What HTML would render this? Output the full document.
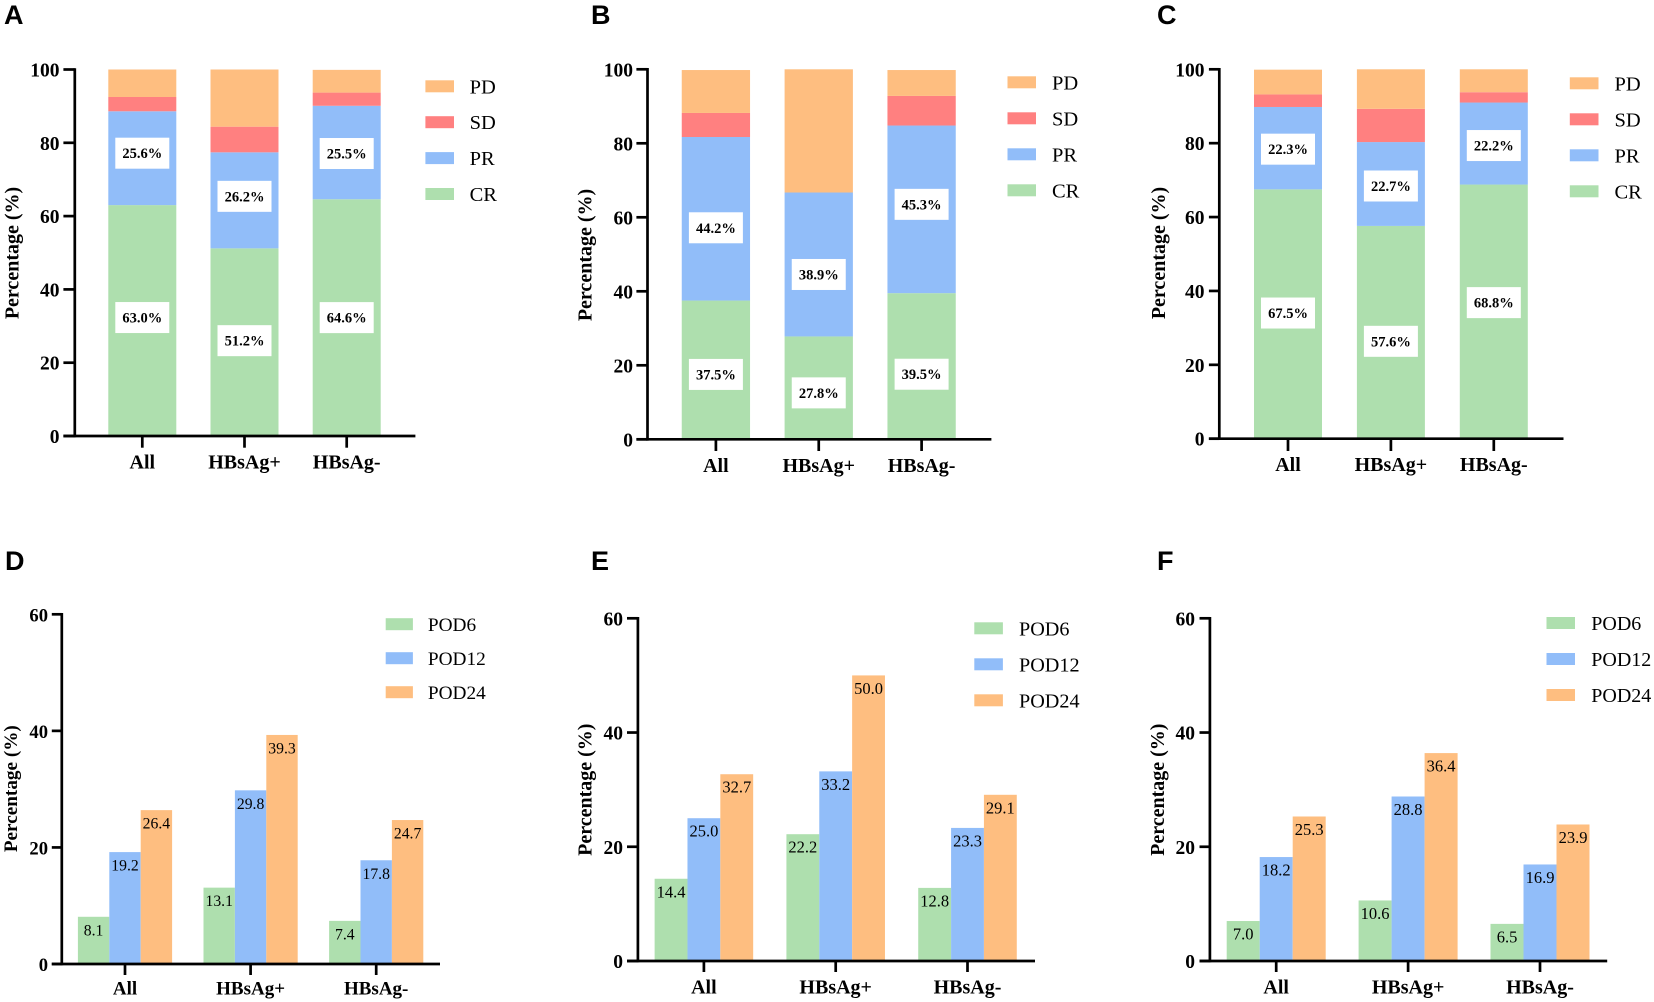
<!DOCTYPE html>
<html lang="en">
<head>
<meta charset="utf-8">
<title>Tumor response and POD rates by HBsAg status</title>
<style>
  html, body { margin: 0; padding: 0; background: #fff; }
  body { width: 1654px; height: 1002px; overflow: hidden; }
  svg { display: block; }
  text { font-family: "Liberation Serif", serif; fill: #000; }
  .panel-letter { font-family: "Liberation Sans", sans-serif; font-weight: 700; font-size: 27px; }
  .tick { font-weight: 700; }
  .title { font-weight: 700; }
  .seg-label { font-weight: 700; font-size: 14.5px; }
</style>
</head>
<body>
<svg id="figure" xmlns="http://www.w3.org/2000/svg" width="1654" height="1002" viewBox="0 0 1654 1002"></svg>
<script>
// ---- Shared categories and tick labels ----
const categories = ["All", "HBsAg+", "HBsAg-"];
const stackedSeries = ["CR", "PR", "SD", "PD"];
const stackedLegendOrder = ["PD", "SD", "PR", "CR"];
const podSeries = ["POD6", "POD12", "POD24"];
const stackedTicks = [0, 20, 40, 60, 80, 100];
const podTicks = [0, 20, 40, 60];

// ---- Panel A values (%) ----
const aCR = [63.0, 51.2, 64.6];
const aPR = [25.6, 26.2, 25.5];
const aSD = [3.9, 7.0, 3.6];
const aPD = [7.5, 15.6, 6.2];

// ---- Panel B values (%) ----
const bCR = [37.5, 27.8, 39.5];
const bPR = [44.2, 38.9, 45.3];
const bSD = [6.5, 0, 8.0];
const bPD = [11.6, 33.3, 7.0];

// ---- Panel C values (%) ----
const cCR = [67.5, 57.6, 68.8];
const cPR = [22.3, 22.7, 22.2];
const cSD = [3.4, 9.0, 2.8];
const cPD = [6.7, 10.7, 6.2];

// ---- Panel D values (%) ----
const dPOD6 = [8.1, 13.1, 7.4];
const dPOD12 = [19.2, 29.8, 17.8];
const dPOD24 = [26.4, 39.3, 24.7];

// ---- Panel E values (%) ----
const ePOD6 = [14.4, 22.2, 12.8];
const ePOD12 = [25.0, 33.2, 23.3];
const ePOD24 = [32.7, 50.0, 29.1];

// ---- Panel F values (%) ----
const fPOD6 = [7.0, 10.6, 6.5];
const fPOD12 = [18.2, 28.8, 16.9];
const fPOD24 = [25.3, 36.4, 23.9];

// ---- Styling and layout (not data) ----
const colors = { CR: "#aedfae", PR: "#91bdf9", SD: "#ff8080", PD: "#febe80", POD6: "#aedfae", POD12: "#91bdf9", POD24: "#febe80" };
const NS = "http://www.w3.org/2000/svg";
const svg = document.getElementById("figure");

function add(parent, tag, attrs, content) {
  const el = document.createElementNS(NS, tag);
  for (const k in attrs) el.setAttribute(k, attrs[k]);
  if (content !== undefined) el.textContent = content;
  parent.appendChild(el);
  return el;
}

function drawFrame(g, p, ticks) {
  const y = v => p.y0 + (p.yTop - p.y0) * v / p.max;
  const x = i => p.c0 + i * p.step;

  const yAxis = add(g, "line", { x1: p.axisX, x2: p.axisX, y1: p.yTop - 1.3, y2: p.y0 + 1.3, stroke: "#000", "stroke-width": 2.7 });
  
  
  const xAxis = add(g, "line", { x1: p.tickLeft, x2: p.axisEnd, y1: p.y0, y2: p.y0, stroke: "#000", "stroke-width": 2.7 });
  
  

  ticks.forEach(v => {
    const t = add(g, "line", { x1: p.tickLeft, x2: p.axisX, y1: y(v), y2: y(v), stroke: "#000", "stroke-width": 2.7 });
    
    
    const l = add(g, "text", { class: "tick", x: p.tickTextRight, y: y(v) + 7, "text-anchor": "end", "font-size": p.tickSize }, String(v));
    
    
  });

  categories.forEach((c, i) => {
    const t = add(g, "line", { x1: x(i), x2: x(i), y1: p.y0, y2: p.xTickEnd, stroke: "#000", "stroke-width": 2.7 });
    
    
    const l = add(g, "text", { class: "tick", x: x(i), y: p.xLabelY, "text-anchor": "middle", "font-size": p.xLabelSize }, c);
    
    
  });

  const title = add(g, "text", { class: "title", transform: "translate(" + p.titleX + "," + p.titleY + ") rotate(-90)", "text-anchor": "middle", "font-size": p.titleSize }, "Percentage (%)");
  
  

  const letter = add(g, "text", { class: "panel-letter", x: p.letterX, y: p.letterY }, p.letter);
  
  
}

function drawLegend(g, p, names) {
  names.forEach((n, i) => {
    const cy = p.legendY + i * p.legendGap;
    const entry = add(g, "g", {});
    
    
    const sw = add(entry, "rect", { x: p.swatchX, y: cy - 6, width: p.swatchW, height: 12, fill: colors[n] });
    
    
    const tx = add(entry, "text", { x: p.legendTextX, y: cy + 7, "font-size": p.legendSize }, n);
    
    
  });
}

function drawStacked(p, series, labelNudge) {
  const g = add(svg, "g", {});
  
  
  const y = v => p.y0 + (p.yTop - p.y0) * v / p.max;
  const x = i => p.c0 + i * p.step;

  categories.forEach((c, i) => {
    let base = 0;
    const labels = [];
    stackedSeries.forEach(name => {
      const v = series[name][i];
      const bar = add(g, "rect", { x: x(i) - p.barW / 2, y: y(base + v), width: p.barW, height: y(base) - y(base + v), fill: colors[name] });
      
      
      if (name === "CR" || name === "PR") labels.push({ name: name, v: v, mid: base + v / 2 });
      base += v;
    });
    labels.forEach(l => {
      const cy = y(l.mid) + labelNudge[l.name][i];
      const box = add(g, "rect", { x: x(i) - 27, y: cy - 15.5, width: 54, height: 31, fill: "#fff" });
      
      
      const tx = add(g, "text", { class: "seg-label", x: x(i), y: cy + 5, "text-anchor": "middle" }, l.v.toFixed(1) + "%");
      
      
    });
  });

  drawFrame(g, p, stackedTicks);
  drawLegend(g, p, stackedLegendOrder);
}

function drawGrouped(p, series) {
  const g = add(svg, "g", {});
  
  
  const y = v => p.y0 + (p.yTop - p.y0) * v / p.max;
  const x = i => p.c0 + i * p.step;

  categories.forEach((c, i) => {
    podSeries.forEach((name, s) => {
      const v = series[name][i];
      const left = x(i) + (s - 1.5) * p.barW;
      const bar = add(g, "rect", { x: left, y: y(v), width: p.barW, height: p.y0 - y(v), fill: colors[name] });
      
      
      const tx = add(g, "text", { x: left + p.barW / 2, y: y(v) + 18.5, "text-anchor": "middle", "font-size": p.valueSize, fill: "#111" }, v.toFixed(1));
      
      
    });
  });

  drawFrame(g, p, podTicks);
  drawLegend(g, p, podSeries);
}

drawStacked(
  { letter: "A", letterX: 4, letterY: 24, max: 100, y0: 436, yTop: 69.5, c0: 142.3, step: 102.2, barW: 68,
    axisX: 74.8, tickLeft: 63.4, axisEnd: 415.4, xTickEnd: 447.7, tickTextRight: 59.5, tickSize: 19.5, xLabelY: 468.3, xLabelSize: 20,
    titleX: 18.5, titleY: 253, titleSize: 20,
    legendY: 86.3, legendGap: 35.9, swatchX: 425.4, swatchW: 28.6, legendTextX: 469.6, legendSize: 20.5 },
  { CR: aCR, PR: aPR, SD: aSD, PD: aPD },
  { CR: [-3, -1.5, 0], PR: [-5, -4, 1] }
);

drawStacked(
  { letter: "B", letterX: 591, letterY: 24, max: 100, y0: 439.3, yTop: 69.3, c0: 715.9, step: 102.85, barW: 68.3,
    axisX: 647.5, tickLeft: 636.4, axisEnd: 991.4, xTickEnd: 451, tickTextRight: 633, tickSize: 19.5, xLabelY: 472, xLabelSize: 20,
    titleX: 591.4, titleY: 255, titleSize: 20,
    legendY: 82.3, legendGap: 36, swatchX: 1007.5, swatchW: 28.5, legendTextX: 1052, legendSize: 20.5 },
  { CR: bCR, PR: bPR, SD: bSD, PD: bPD },
  { CR: [4.5, 5, 8], PR: [9, 10, -5] }
);

drawStacked(
  { letter: "C", letterX: 1157, letterY: 24, max: 100, y0: 438.7, yTop: 69.3, c0: 1288, step: 102.9, barW: 68,
    axisX: 1219.3, tickLeft: 1208.9, axisEnd: 1563.5, xTickEnd: 451, tickTextRight: 1204.5, tickSize: 19.5, xLabelY: 471, xLabelSize: 20,
    titleX: 1164.8, titleY: 253, titleSize: 20,
    legendY: 83.3, legendGap: 36, swatchX: 1569.8, swatchW: 28.7, legendTextX: 1614.5, legendSize: 20.5 },
  { CR: cCR, PR: cPR, SD: cSD, PD: cPD },
  { CR: [-1, 9, -9], PR: [1, 2, 2] }
);

drawGrouped(
  { letter: "D", letterX: 5, letterY: 570, max: 60, y0: 964, yTop: 614.3, c0: 125, step: 125.6, barW: 31.4,
    axisX: 61.8, tickLeft: 51.8, axisEnd: 440, xTickEnd: 975, tickTextRight: 48, tickSize: 18.6, xLabelY: 994.3, xLabelSize: 19,
    titleX: 16.8, titleY: 788.7, titleSize: 19.2,
    legendY: 624.2, legendGap: 34, swatchX: 385.7, swatchW: 27.2, legendTextX: 427.9, legendSize: 19.3, valueSize: 15.7 },
  { POD6: dPOD6, POD12: dPOD12, POD24: dPOD24 }
);

drawGrouped(
  { letter: "E", letterX: 591, letterY: 570, max: 60, y0: 961, yTop: 618.3, c0: 703.9, step: 131.8, barW: 32.85,
    axisX: 637.9, tickLeft: 627, axisEnd: 1035, xTickEnd: 972, tickTextRight: 623, tickSize: 19.5, xLabelY: 993.3, xLabelSize: 20,
    titleX: 591.4, titleY: 789.7, titleSize: 20,
    legendY: 628.3, legendGap: 36, swatchX: 974.3, swatchW: 28.6, legendTextX: 1019, legendSize: 20.2, valueSize: 16.5 },
  { POD6: ePOD6, POD12: ePOD12, POD24: ePOD24 }
);

drawGrouped(
  { letter: "F", letterX: 1157, letterY: 570, max: 60, y0: 961, yTop: 618.3, c0: 1276.2, step: 131.9, barW: 33,
    axisX: 1209.9, tickLeft: 1199.5, axisEnd: 1607.2, xTickEnd: 972, tickTextRight: 1195, tickSize: 19.5, xLabelY: 993.3, xLabelSize: 20,
    titleX: 1163.8, titleY: 789.7, titleSize: 20,
    legendY: 623, legendGap: 36, swatchX: 1546.5, swatchW: 28.5, legendTextX: 1591.3, legendSize: 20, valueSize: 16.5 },
  { POD6: fPOD6, POD12: fPOD12, POD24: fPOD24 }
);
</script>
</body>
</html>
